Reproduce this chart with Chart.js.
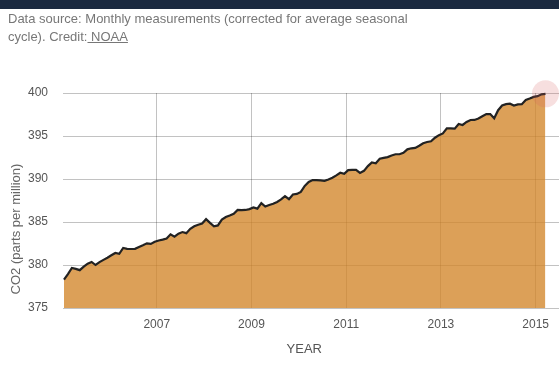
<!DOCTYPE html>
<html>
<head>
<meta charset="utf-8">
<script src="https://cdn.jsdelivr.net/npm/chart.js@4"></script>
<style>
  html, body { margin: 0; padding: 0; background: #fff; overflow: hidden; }
  #wrap { position: relative; width: 559px; height: 368px; }
  #bar { position: absolute; left: 0; top: 0; width: 559px; height: 9px; background: #1b2a40; z-index: 2; }
  #note { position: absolute; left: 8px; top: 10px; width: 420px; font: 13px "Liberation Sans", Arial, sans-serif; line-height: 18px; color: #777; z-index: 2; }
  #note a { color: #777; text-decoration: underline; }
  #cv { position: absolute; left: 0; top: 0; }
</style>
</head>
<body>
<div id="wrap">
  <div id="bar"></div>
  <div id="note">Data source: Monthly measurements (corrected for average seasonal cycle). Credit:<a> NOAA</a></div>
  <canvas id="cv" width="559" height="368"></canvas>
</div>
<script>
// First month of the series and monthly CO2 values (ppm), Jan 2005 - Mar 2015
const firstYear = 2005;
const co2 = [
  378.3, 378.95, 379.65, 379.55, 379.4, 379.8, 380.15, 380.35, 380.0, 380.33, 380.6, 380.85,
  381.13, 381.4, 381.3, 381.98, 381.88, 381.86, 381.88, 382.1, 382.3, 382.52, 382.45, 382.7,
  382.85, 382.95, 383.08, 383.57, 383.3, 383.65, 383.83, 383.7, 384.2, 384.5, 384.68, 384.82,
  385.33, 384.9, 384.5, 384.6, 385.28, 385.58, 385.75, 385.95, 386.4, 386.37, 386.4, 386.5,
  386.7, 386.55, 387.2, 386.8, 386.97, 387.12, 387.33, 387.62, 388.0, 387.65, 388.2, 388.26,
  388.5, 389.2, 389.65, 389.88, 389.88, 389.83, 389.78, 389.95, 390.15, 390.42, 390.72, 390.6,
  391.03, 391.05, 391.05, 390.7, 390.95, 391.5, 391.92, 391.83, 392.35, 392.45, 392.55, 392.73,
  392.88, 392.88, 393.05, 393.45, 393.57, 393.62, 393.86, 394.15, 394.3, 394.38, 394.8, 395.1,
  395.3, 395.9, 395.88, 395.85, 396.4, 396.28, 396.63, 396.86, 396.87, 397.04, 397.3, 397.56,
  397.55, 397.06, 398.0, 398.55, 398.7, 398.75, 398.55, 398.67, 398.7, 399.18, 399.35, 399.55,
  399.63, 399.85, 399.9
];
const yearTicks = [2007, 2009, 2011, 2013, 2015];
const yTicks = [375, 380, 385, 390, 395, 400];
const yTitle = 'CO2 (parts per million)';
const xTitle = 'YEAR';

// month centers as decimal years
const points = co2.map((v, i) => ({ x: firstYear + (i + 0.5) / 12, y: v }));

const gridColor = 'rgba(0,0,0,0.24)';
const fontFamily = '"Liberation Sans", Arial, sans-serif';

const extendGrid = {
  id: 'extendGrid',
  beforeDatasetsDraw(chart) {
    const ctx = chart.ctx, ys = chart.scales.y, ca = chart.chartArea;
    ctx.save();
    ctx.strokeStyle = gridColor;
    ctx.lineWidth = 1;
    ys.ticks.forEach(t => {
      const py = Math.round(ys.getPixelForValue(t.value)) + 0.5;
      ctx.beginPath();
      ctx.moveTo(ca.right, py);
      ctx.lineTo(chart.width, py);
      ctx.stroke();
    });
    ctx.restore();
  }
};

// y-axis title, placed lower than the chart-area centre as in the original
const yTitlePlugin = {
  id: 'yTitlePlugin',
  afterDraw(chart) {
    const ctx = chart.ctx;
    ctx.save();
    ctx.translate(16, 229);
    ctx.rotate(-Math.PI / 2);
    ctx.font = '13px ' + fontFamily;
    ctx.fillStyle = '#666';
    ctx.textAlign = 'center';
    ctx.textBaseline = 'middle';
    ctx.fillText(yTitle, 0, 0);
    ctx.restore();
  }
};

new Chart(document.getElementById('cv'), {
  type: 'line',
  data: {
    datasets: [{
      data: points,
      borderColor: '#222',
      borderWidth: 2.2,
      backgroundColor: 'rgba(210,133,41,0.78)',
      fill: 'start',
      tension: 0,
      clip: false,
      pointRadius: ctx => ctx.dataIndex === co2.length - 1 ? 13.5 : 0,
      pointBackgroundColor: 'rgba(214,96,96,0.2)',
      pointBorderWidth: 0,
      pointHoverRadius: 0
    }]
  },
  options: {
    responsive: false,
    animation: false,
    events: [],
    layout: { padding: { top: 93, right: 13, left: 0, bottom: 0 } },
    plugins: { legend: { display: false }, tooltip: { enabled: false } },
    scales: {
      x: {
        type: 'linear',
        min: firstYear + 1 / 48,
        max: firstYear + (co2.length - 1 + 0.5) / 12,
        afterBuildTicks: s => { s.ticks = yearTicks.map(v => ({ value: v })); },
        afterFit: s => { s.height = 60; },
        grid: { color: gridColor, drawTicks: false },
        border: { display: false },
        ticks: {
          padding: 9,
          color: '#555',
          font: { family: fontFamily, size: 12 },
          callback: v => String(v),
          maxRotation: 0
        },
        title: {
          display: true,
          text: xTitle,
          color: '#555',
          font: { family: fontFamily, size: 13 },
          padding: { top: 0, bottom: 11 }
        }
      },
      y: {
        min: 375,
        max: 400,
        afterBuildTicks: s => { s.ticks = yTicks.map(v => ({ value: v })); },
        afterFit: s => { s.width = 63; },
        grid: { color: gridColor, drawTicks: false },
        border: { display: false },
        ticks: {
          padding: 15,
          color: '#555',
          font: { family: fontFamily, size: 12 }
        },
        title: { display: false }
      }
    }
  },
  plugins: [extendGrid, yTitlePlugin]
});
</script>
</body>
</html>
